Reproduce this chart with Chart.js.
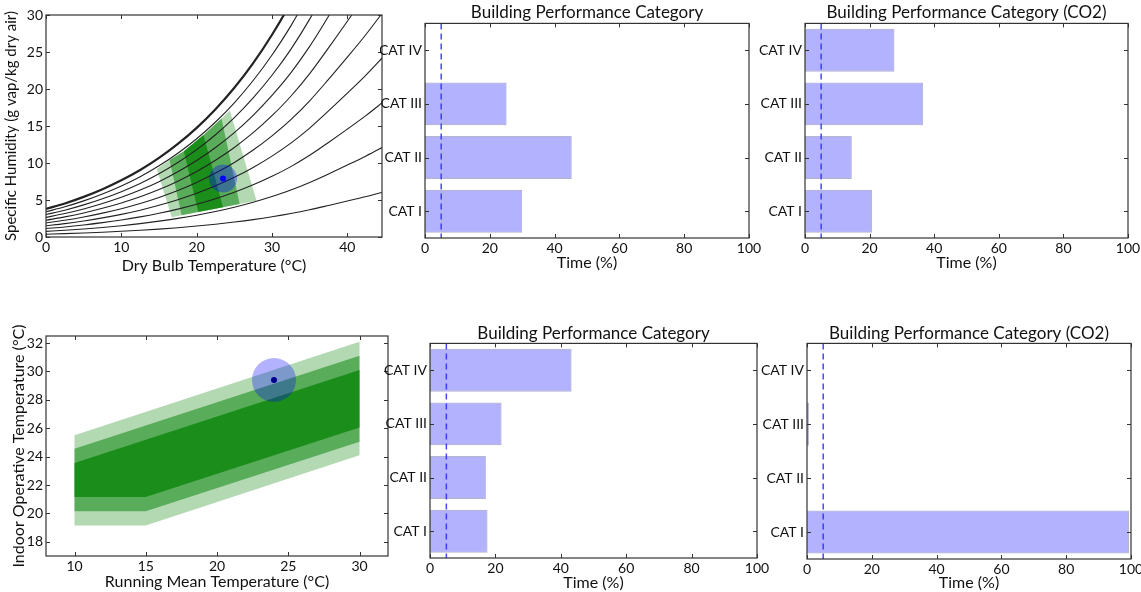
<!DOCTYPE html>
<html><head><meta charset="utf-8">
<script src="https://cdn.jsdelivr.net/npm/chart.js@4.4.1/dist/chart.umd.min.js"></script>
<style>
html,body{margin:0;padding:0;background:#fff;width:1141px;height:592px;overflow:hidden;}
canvas{position:absolute;left:0;top:0;}
</style></head><body>
<canvas id="c1" width="1141" height="592"></canvas>
<canvas id="c2" width="1141" height="592"></canvas>
<canvas id="c3" width="1141" height="592"></canvas>
<canvas id="c4" width="1141" height="592"></canvas>
<canvas id="c5" width="1141" height="592"></canvas>
<canvas id="c6" width="1141" height="592"></canvas>
<script>
// ---------------- DATA ----------------
// Psychrometric chart: dry bulb temperature (°C) and specific humidity (g/kg) of RH curves 10%..100%
const psyTemps = [0,2.5,5,7.5,10,12.5,15,17.5,20,22.5,25,27.5,30,32.5,35,37.5,40,42.5,45];
const rh10  = [0.38,0.45,0.54,0.65,0.77,0.91,1.07,1.26,1.48,1.73,2.02,2.35,2.73,3.17,3.68,4.26,4.86,5.48,6.15];
const rh20  = [0.76,0.91,1.08,1.29,1.53,1.81,2.14,2.52,2.95,3.45,4.03,4.70,5.47,6.34,7.36,8.52,9.72,10.96,12.3];
const rh30  = [1.14,1.36,1.63,1.94,2.30,2.72,3.21,3.77,4.43,5.18,6.05,7.05,8.20,9.51,11.04,12.78,14.58,16.44,18.45];
const rh40  = [1.52,1.81,2.17,2.58,3.06,3.62,4.28,5.03,5.90,6.91,8.06,9.40,10.93,12.68,14.72,17.04,19.44,21.92,24.6];
const rh50  = [1.90,2.27,2.71,3.23,3.83,4.53,5.35,6.29,7.38,8.64,10.08,11.75,13.67,15.85,18.40,21.30,24.3,27.4,30.75];
const rh60  = [2.27,2.72,3.25,3.88,4.60,5.43,6.41,7.55,8.85,10.36,12.10,14.10,16.40,19.02,22.08,25.56,29.16,32.88,36.9];
const rh70  = [2.65,3.17,3.79,4.52,5.36,6.34,7.48,8.81,10.33,12.09,14.11,16.45,19.13,22.19,25.76,29.82,34.02,38.36,43.05];
const rh80  = [3.03,3.62,4.34,5.17,6.13,7.24,8.55,10.06,11.80,13.82,16.13,18.80,21.86,25.36,29.44,34.08,38.88,43.84,49.2];
const rh90  = [3.41,4.08,4.88,5.81,6.89,8.15,9.62,11.32,13.28,15.54,18.14,21.15,24.60,28.53,33.12,38.34,43.74,49.32,55.35];
const rh100 = [3.79,4.53,5.42,6.46,7.66,9.05,10.69,12.58,14.75,17.27,20.16,23.50,27.33,31.70,36.80,42.60,48.6,54.8,61.5];
const rhCurves = [rh10,rh20,rh30,rh40,rh50,rh60,rh70,rh80,rh90,rh100];

// Comfort zones on psychrometric chart (T °C, g/kg)
const psyZoneIII = [[16.7,2.68],[18.0,2.94],[20.2,3.37],[23.5,4.03],[25.7,4.46],[27.95,4.91],[24.4,17.1],[23.3,16.0],[20.9,13.8],[18.3,11.6],[16.4,10.4],[14.7,9.2],[16.7,2.68]];
const psyZoneII  = [[18.0,2.94],[20.2,3.37],[23.5,4.03],[25.7,4.46],[23.3,16.0],[20.9,13.8],[18.3,11.6],[16.4,10.4],[18.0,2.94]];
const psyZoneI   = [[20.2,3.37],[23.5,4.03],[20.9,13.8],[18.3,11.6],[20.2,3.37]];
const psyPoint   = [23.5, 7.9];

// Adaptive comfort zones (running mean T, operative T)
const adaptZoneIII = [[10,25.5],[30,32.1],[30,24.1],[15,19.15],[10,19.15],[10,25.5]];
const adaptZoneII  = [[10,24.55],[30,31.1],[30,25.05],[15,20.15],[10,20.15],[10,24.55]];
const adaptZoneI   = [[10,23.55],[30,30.1],[30,26.05],[15,21.15],[10,21.15],[10,23.55]];
const adaptPoint   = [24, 29.4];

// Building performance categories (% of time)
const categories = ['CAT I','CAT II','CAT III','CAT IV'];
const bpcTop       = [30, 45.3, 25.2, 0];
const bpcCo2Top    = [20.8, 14.5, 36.6, 27.7];
const bpcBottom    = [17.6, 17.1, 21.9, 43.3];
const bpcCo2Bottom = [99.4, 0, 0.6, 0];
const threshold = 5;
const timeTicks = [0,20,40,60,80,100];

// ---------------- STYLE ----------------
Chart.defaults.font.family = "Lato, 'Open Sans', sans-serif";
Chart.defaults.color = '#111';
Chart.defaults.animation = false;
Chart.defaults.plugins.legend.display = false;
Chart.defaults.plugins.tooltip.enabled = false;

const TICK = {size:14};
const CATF = {size:14};
const AXT = {size:16};
const TITLE = {size:17, weight:'normal'};
const NOGRID = {display:false, drawTicks:false};

const frame = {
  id:'frame',
  afterDatasetsDraw(chart){
    const {ctx, chartArea:a, scales} = chart;
    const xs = scales.x, ys = scales.y, len = 4;
    ctx.save();
    ctx.strokeStyle = '#333'; ctx.lineWidth = 1;
    ctx.beginPath();
    xs.ticks.forEach((t,i)=>{const p = Math.round(xs.getPixelForTick(i))+0.5;
      ctx.moveTo(p,a.bottom); ctx.lineTo(p,a.bottom-len); ctx.moveTo(p,a.top); ctx.lineTo(p,a.top+len);});
    ys.ticks.forEach((t,i)=>{const p = Math.round(ys.getPixelForTick(i))+0.5;
      ctx.moveTo(a.left,p); ctx.lineTo(a.left+len,p); ctx.moveTo(a.right,p); ctx.lineTo(a.right-len,p);});
    ctx.stroke();
    ctx.lineWidth = 1.2;
    ctx.strokeRect(a.left, a.top, a.right-a.left, a.bottom-a.top);
    ctx.restore();
  }
};
const vline = {
  id:'vline',
  afterDatasetsDraw(chart, args, o){
    if (o.value === undefined) return;
    const {ctx, chartArea:a, scales} = chart;
    const x = scales.x.getPixelForValue(o.value);
    ctx.save();
    ctx.strokeStyle = 'rgba(40,40,255,0.85)'; ctx.lineWidth = 1.5; ctx.setLineDash([6,4]);
    ctx.beginPath(); ctx.moveTo(x,a.top); ctx.lineTo(x,a.bottom); ctx.stroke();
    ctx.restore();
  }
};
function fix(size, isX){
  return s => { if (isX) s.height = size; else s.width = size;
    s.paddingLeft = 0; s.paddingRight = 0; s.paddingTop = 0; s.paddingBottom = 0; };
}
const pts = arr => arr.map(p => ({x:p[0], y:p[1]}));
const zone = (arr, alpha, order) => ({data: pts(arr), showLine:true, fill:'shape', tension:0,
  backgroundColor:`rgba(0,128,0,${alpha})`, borderColor:'rgba(0,0,0,0)', borderWidth:0, pointRadius:0, order});

// ---------------- PSYCHROMETRIC ----------------
const psyDatasets = rhCurves.map((c,i)=>({
  data: c.map((v,j)=>({x:psyTemps[j], y:v})), showLine:true, pointRadius:0,
  borderColor:'#222', borderWidth: i===9 ? 2.2 : 1.1, cubicInterpolationMode:'monotone', order:2
}));
psyDatasets.push(zone(psyZoneI,0.7,3), zone(psyZoneII,0.5,4), zone(psyZoneIII,0.3,5));
psyDatasets.push({data:[{x:psyPoint[0],y:psyPoint[1]}], pointRadius:14, backgroundColor:'rgba(0,0,255,0.33)', borderWidth:0, order:1});
psyDatasets.push({data:[{x:psyPoint[0],y:psyPoint[1]}], pointRadius:3, backgroundColor:'#0000ff', borderWidth:0, order:0});

new Chart(document.getElementById('c1'), {
  type:'scatter',
  data:{datasets: psyDatasets},
  options:{responsive:false, layout:{padding:{left:0,top:15,right:759,bottom:317}},
    scales:{
      x:{type:'linear', min:0, max:44.6, ticks:{stepSize:10, includeBounds:false, padding:2, font:TICK},
         grid:NOGRID, border:{display:false},
         title:{display:true, text:'Dry Bulb Temperature (°C)', font:AXT, padding:{top:0,bottom:0}}, afterFit:fix(38,true)},
      y:{type:'linear', min:0, max:30, ticks:{stepSize:5, padding:3, font:TICK},
         grid:NOGRID, border:{display:false},
         title:{display:true, text:'Specific Humidity (g vap/kg dry air)', font:{size:15}, padding:{top:2,bottom:0}}, afterFit:fix(46,false)}
    }},
  plugins:[frame]
});

// ---------------- ADAPTIVE ----------------
new Chart(document.getElementById('c4'), {
  type:'scatter',
  data:{datasets:[
    zone(adaptZoneI,0.7,3), zone(adaptZoneII,0.5,4), zone(adaptZoneIII,0.3,5),
    {data:[{x:adaptPoint[0],y:adaptPoint[1]}], pointRadius:22, backgroundColor:'rgba(0,0,255,0.3)', borderWidth:0, order:1},
    {data:[{x:adaptPoint[0],y:adaptPoint[1]}], pointRadius:3, backgroundColor:'#00008b', borderWidth:0, order:0}
  ]},
  options:{responsive:false, layout:{padding:{left:0,top:336,right:753,bottom:1}},
    scales:{
      x:{type:'linear', min:8, max:32, ticks:{stepSize:5, includeBounds:false, padding:2, font:TICK},
         grid:NOGRID, border:{display:false},
         title:{display:true, text:'Running Mean Temperature (°C)', font:AXT, padding:{top:0,bottom:0}}, afterFit:fix(35,true)},
      y:{type:'linear', min:17, max:32.5, ticks:{stepSize:2, includeBounds:false, padding:3, font:TICK},
         grid:NOGRID, border:{display:false},
         title:{display:true, text:'Indoor Operative Temperature (°C)', font:AXT, padding:{top:9,bottom:0}}, afterFit:fix(46,false)}
    }},
  plugins:[frame]
});

// ---------------- BARS ----------------
function barChart(id, values, title, pad, yw, xh, tpad){
  new Chart(document.getElementById(id), {
    type:'bar',
    data:{labels:categories, datasets:[{data:values, backgroundColor:'rgba(0,0,255,0.3)',
      borderColor:'rgba(40,40,110,0.35)', borderWidth:1, borderSkipped:false,
      barPercentage:0.8, categoryPercentage:1.0}]},
    options:{responsive:false, indexAxis:'y', layout:{padding:pad},
      plugins:{title:{display:true, text:title, fullSize:false, font:TITLE, color:'#111', padding:tpad},
               vline:{value:threshold}},
      scales:{
        x:{type:'linear', min:0, max:100, afterBuildTicks:s=>{s.ticks = timeTicks.map(v=>({value:v}));},
           ticks:{padding:2, font:TICK}, grid:NOGRID, border:{display:false},
           title:{display:true, text:'Time (%)', font:AXT, padding:{top:0,bottom:0}}, afterFit:fix(xh,true)},
        y:{type:'category', reverse:true, offset:true, ticks:{padding:3, font:CATF},
           grid:NOGRID, border:{display:false}, afterFit:fix(yw,false)}
      }},
    plugins:[vline, frame]
  });
}
barChart('c2', bpcTop, 'Building Performance Category', {left:380,top:0,right:392,bottom:320}, 45, 34, {top:2,bottom:1});
barChart('c3', bpcCo2Top, 'Building Performance Category (CO2)', {left:755,top:0,right:13,bottom:320}, 50, 34, {top:2,bottom:1});
barChart('c5', bpcBottom, 'Building Performance Category', {left:380,top:322,right:384,bottom:0}, 50, 34, {top:1,bottom:0});
barChart('c6', bpcCo2Bottom, 'Building Performance Category (CO2)', {left:755,top:322,right:10,bottom:0}, 52, 33, {top:1,bottom:0});
</script>
</body></html>
